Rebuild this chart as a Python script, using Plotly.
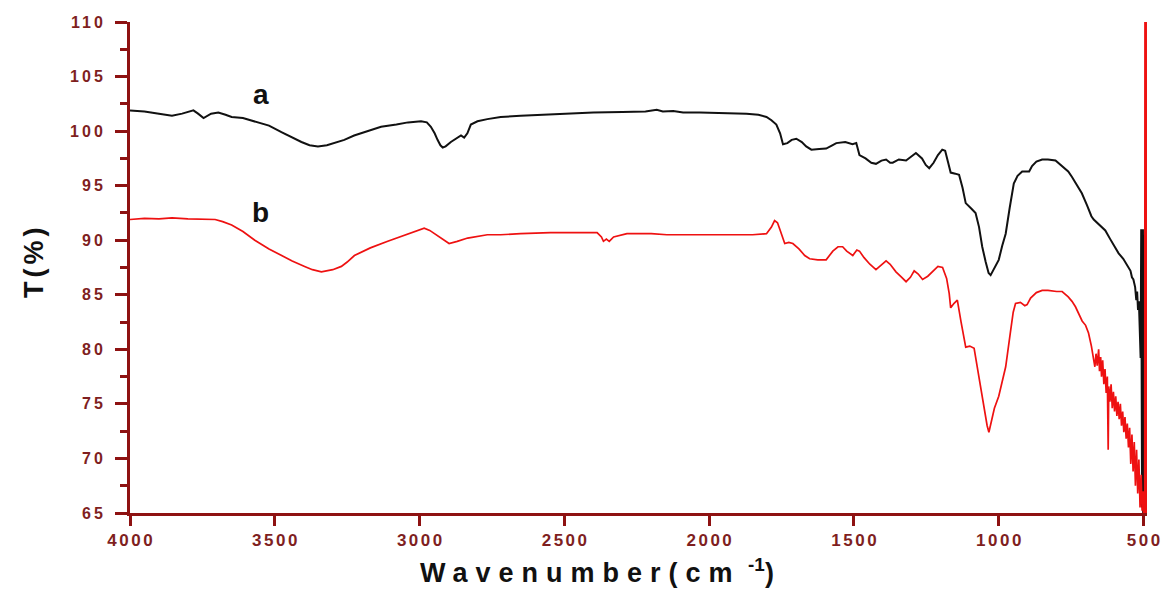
import plotly.graph_objects as go

# FTIR transmittance spectra, wavenumber in cm^-1 (descending) and T in %
wn_a = [4000, 3950, 3900, 3855, 3820, 3781, 3765, 3746, 3720, 3695, 3670, 3649, 3610, 3570,
        3520, 3477, 3440, 3408, 3380, 3351, 3320, 3294, 3260, 3226, 3180, 3133, 3080, 3040,
        2995, 2975, 2961, 2948, 2938, 2928, 2920, 2910, 2892, 2870, 2857, 2846, 2835, 2823,
        2800, 2766, 2720, 2651, 2580, 2490, 2400, 2300, 2220, 2181, 2160, 2124, 2090, 2032,
        1950, 1871, 1830, 1802, 1785, 1768, 1755, 1745, 1730, 1715, 1699, 1680, 1665, 1647,
        1620, 1596, 1575, 1561, 1530, 1505, 1492, 1481, 1460, 1440, 1424, 1405, 1389, 1375,
        1366, 1345, 1320, 1300, 1286, 1265, 1252, 1240, 1225, 1210, 1195, 1185, 1175, 1166,
        1150, 1137, 1125, 1114, 1095, 1080, 1068, 1057, 1045, 1035, 1028, 1015, 1000, 988,
        976, 962, 948, 935, 919, 905, 895, 885, 870, 850, 830, 804, 780, 760, 747, 730, 713,
        695, 680, 672, 655, 640, 632, 615, 600, 586, 570, 560, 552, 545, 540, 535, 529, 525,
        522, 519, 516, 514, 512, 510, 508, 507, 506, 505, 504, 503, 502, 501.5, 501]
t_a = [101.9, 101.8, 101.6, 101.4, 101.6, 101.9, 101.6, 101.2, 101.6, 101.7, 101.5, 101.3,
       101.2, 100.9, 100.5, 99.9, 99.4, 99.0, 98.7, 98.6, 98.7, 98.9, 99.2, 99.6, 100.0, 100.4,
       100.6, 100.8, 100.9, 100.8, 100.4, 99.8, 99.2, 98.7, 98.5, 98.6, 99.0, 99.4, 99.6, 99.4,
       99.8, 100.6, 100.9, 101.1, 101.3, 101.4, 101.5, 101.6, 101.7, 101.75, 101.8, 101.95,
       101.8, 101.85, 101.7, 101.7, 101.65, 101.6, 101.5, 101.3, 101.0, 100.6, 99.8, 98.8,
       98.9, 99.2, 99.3, 99.0, 98.6, 98.3, 98.35, 98.4, 98.7, 98.9, 99.0, 98.8, 98.9, 97.8,
       97.5, 97.1, 97.0, 97.3, 97.4, 97.1, 97.1, 97.4, 97.3, 97.7, 98.0, 97.5, 96.9, 96.6,
       97.1, 97.8, 98.3, 98.2, 97.2, 96.2, 96.1, 96.0, 94.8, 93.4, 92.9, 92.5, 91.2, 89.4,
       88.0, 87.0, 86.8, 87.4, 88.2, 89.5, 90.6, 93.0, 95.2, 95.9, 96.3, 96.3, 96.3, 96.8,
       97.2, 97.4, 97.4, 97.3, 96.8, 96.3, 95.8, 95.0, 94.3, 93.2, 92.2, 91.9, 91.5, 91.1,
       90.9, 90.1, 89.4, 88.8, 88.3, 87.9, 87.6, 87.2, 86.6, 86.4, 85.7, 84.5, 85.3, 83.6,
       84.4, 81.5, 80.3, 79.2, 91.0, 72.0, 88.5, 65.5, 84.0, 65.0, 91.0, 65.0, 90.5]

wn_b = [4000, 3950, 3900, 3855, 3800, 3750, 3706, 3680, 3649, 3610, 3569, 3520, 3477, 3440,
        3397, 3370, 3339, 3300, 3270, 3250, 3225, 3170, 3110, 3050, 3010, 2984, 2965, 2949,
        2920, 2898, 2870, 2834, 2766, 2720, 2651, 2548, 2450, 2387, 2372, 2365, 2355, 2345,
        2330, 2300, 2284, 2200, 2146, 2050, 1917, 1850, 1802, 1785, 1774, 1764, 1756, 1745,
        1739, 1725, 1711, 1690, 1670, 1653, 1625, 1596, 1585, 1573, 1555, 1539, 1525, 1510,
        1504, 1490, 1481, 1465, 1445, 1424, 1405, 1389, 1375, 1355, 1335, 1320, 1305, 1292,
        1278, 1263, 1245, 1225, 1210, 1194, 1180, 1171, 1166, 1155, 1143, 1130, 1120, 1114,
        1100, 1085, 1075, 1062, 1050, 1040, 1034, 1025, 1015, 1000, 988, 976, 960, 950, 942,
        925, 910, 902, 890, 870, 850, 830, 800, 781, 760, 747, 735, 712, 700, 690, 680, 672,
        668, 664, 660, 655, 652, 648, 645, 641, 637, 633, 629, 625, 622, 620, 616, 612, 608,
        604, 600, 596, 592, 588, 584, 580, 576, 572, 568, 564, 560, 556, 552, 548, 544, 540,
        536, 532, 528, 524, 520, 516, 512, 508, 505, 502, 500, 497, 496, 495, 494, 493, 492,
        491, 490.5]
t_b = [91.9, 92.0, 91.95, 92.05, 91.95, 91.95, 91.9, 91.7, 91.4, 90.8, 90.0, 89.2, 88.6,
       88.1, 87.6, 87.3, 87.1, 87.3, 87.6, 88.0, 88.6, 89.3, 89.9, 90.5, 90.9, 91.1, 90.9,
       90.6, 90.1, 89.7, 89.9, 90.2, 90.5, 90.5, 90.6, 90.7, 90.7, 90.7, 90.3, 89.9, 90.1,
       89.9, 90.3, 90.5, 90.6, 90.6, 90.5, 90.5, 90.5, 90.5, 90.6, 91.2, 91.8, 91.6, 91.0,
       90.0, 89.7, 89.8, 89.7, 89.2, 88.6, 88.3, 88.2, 88.2, 88.6, 89.0, 89.4, 89.4, 89.0,
       88.7, 88.6, 89.1, 89.0, 88.4, 87.8, 87.3, 87.7, 88.1, 87.8, 87.1, 86.6, 86.2, 86.6,
       87.2, 86.9, 86.4, 86.7, 87.2, 87.6, 87.5, 86.5, 85.1, 83.8, 84.2, 84.5, 82.5, 80.8,
       80.2, 80.3, 80.1, 78.5, 76.3, 74.3, 73.0, 72.4, 73.5, 74.6, 75.7, 77.0, 78.4, 81.5,
       83.4, 84.2, 84.3, 84.0, 84.1, 84.7, 85.2, 85.4, 85.4, 85.3, 85.3, 84.8, 84.4, 83.9,
       82.6, 82.2, 81.5, 80.3, 79.0, 78.4, 79.6, 78.5, 80.0, 78.0, 79.3, 77.5, 79.0, 76.8,
       78.2, 76.0, 77.5, 70.8, 76.6, 75.2, 76.8, 74.6, 76.1, 74.3, 75.7, 73.9, 75.2, 73.6,
       75.0, 73.0, 74.3, 72.4, 73.8, 71.8, 73.2, 71.0, 72.8, 69.5, 72.2, 68.8, 71.5, 67.5,
       70.8, 66.8, 69.9, 65.5, 68.5, 65.2, 67.0, 65.0, 66.0, 65.0, 110.0, 65.0, 110.0, 65.0,
       110.0, 65.0, 110.0]

x_ticks = [4000, 3500, 3000, 2500, 2000, 1500, 1000, 500]
y_ticks = [65, 70, 75, 80, 85, 90, 95, 100, 105, 110]

axis_col = "#8e1212"
label_col = "#7f1f1f"
font_fam = "Liberation Sans, Arial, sans-serif"

fig = go.Figure()
fig.add_trace(go.Scatter(x=wn_a, y=t_a, mode="lines", line=dict(color="#111111", width=2),
                         name="a", showlegend=False))
fig.add_trace(go.Scatter(x=wn_b, y=t_b, mode="lines", line=dict(color="#ee1111", width=1.7),
                         name="b", showlegend=False))


def spaced(s, px, tail=""):
    # letter spacing between characters only, so the box has no trailing gap
    s = str(s)
    return f'<span style="letter-spacing:{px}px">{s[:-1]}</span>{s[-1]}{tail}'


fig.update_layout(
    width=1162, height=591,
    margin=dict(l=130, r=15, t=22, b=78),
    paper_bgcolor="white", plot_bgcolor="white",
    xaxis=dict(
        range=[4000, 488], showgrid=False, zeroline=False, automargin=False,
        showline=True, linecolor=axis_col, linewidth=3,
        ticks="outside", ticklen=10, tickwidth=2.5, tickcolor=axis_col,
        tickvals=x_ticks, ticktext=[spaced(v, 2.5) for v in x_ticks],
        ticklabeloverflow="allow",
        tickfont=dict(family=font_fam, size=17, color=label_col, weight="bold"),
    ),
    yaxis=dict(
        range=[65, 110], showgrid=False, zeroline=False, automargin=False,
        showline=True, linecolor=axis_col, linewidth=3,
        ticks="outside", ticklen=12, tickwidth=2.5, tickcolor=axis_col,
        tickvals=y_ticks, ticktext=[spaced(v, 3) for v in y_ticks],
        ticklabeloverflow="allow", ticklabelstandoff=9,
        tickfont=dict(family=font_fam, size=16, color=label_col, weight="bold"),
        minor=dict(dtick=2.5, ticks="outside", ticklen=7, tickwidth=2.5, tickcolor=axis_col),
    ),
    annotations=[
        dict(x=3548, y=103.4, xref="x", yref="y", text="<b>a</b>", showarrow=False,
             font=dict(family=font_fam, size=28, color="#111111")),
        dict(x=3548, y=92.5, xref="x", yref="y", text="<b>b</b>", showarrow=False,
             font=dict(family=font_fam, size=28, color="#111111")),
        dict(x=0.459, y=-0.118, xref="paper", yref="paper", xanchor="center", yanchor="middle",
             text="<b>" + spaced("Wavenumber(cm ", 8) + "<sup>-1</sup>)</b>", showarrow=False,
             font=dict(family=font_fam, size=27, color="#111111")),
        dict(x=-0.095, y=0.51, xref="paper", yref="paper", textangle=-90,
             xanchor="center", yanchor="middle",
             text="<b>" + spaced("T(%)", 4) + "</b>", showarrow=False,
             font=dict(family=font_fam, size=27, color="#111111")),
    ],
)

fig.write_html("out.html")
